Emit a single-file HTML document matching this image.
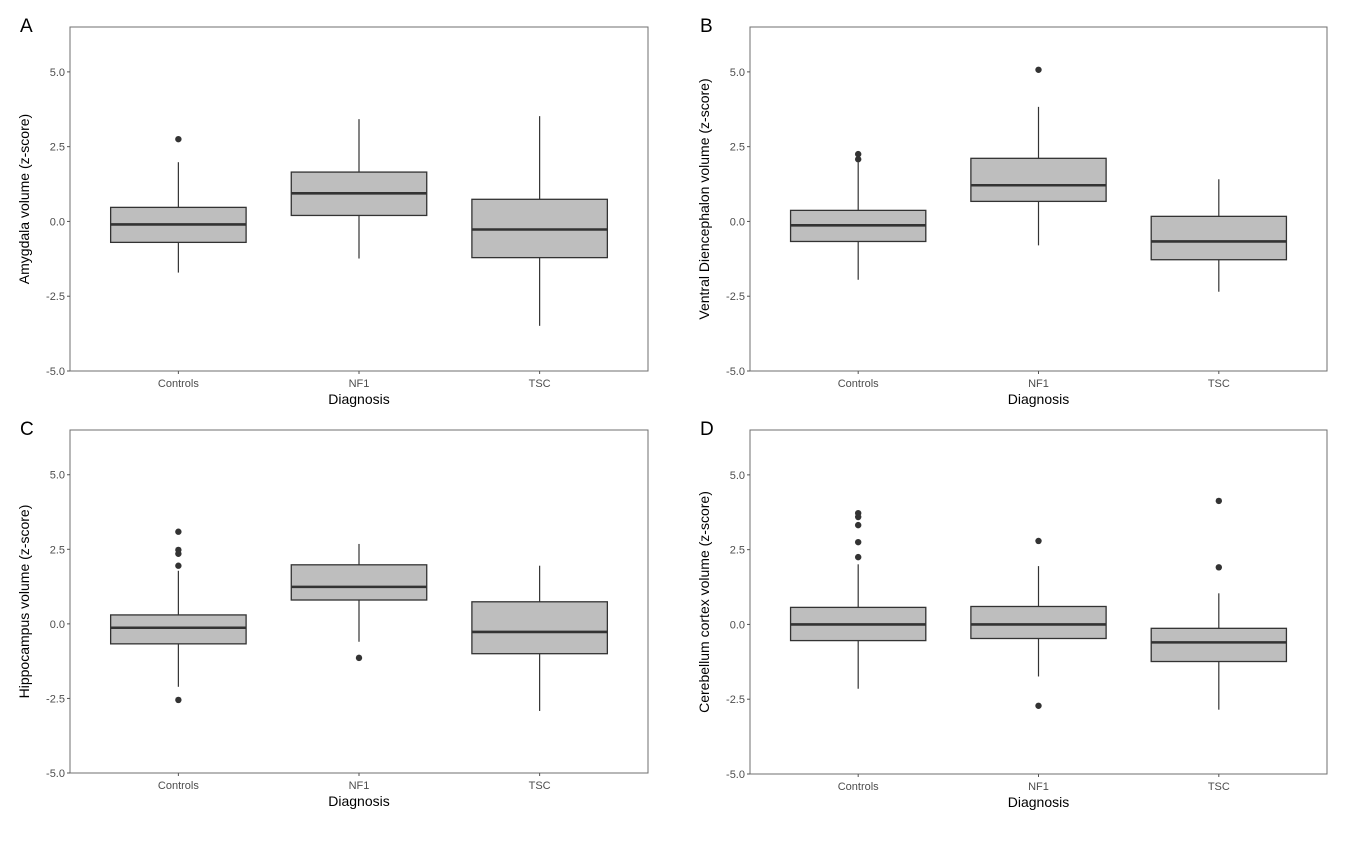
<!DOCTYPE html>
<html><head><meta charset="utf-8"><style>
body{margin:0;background:#fff;}
svg text{font-family:"Liberation Sans",Arial,sans-serif;}
</style></head><body>
<svg id="chart" width="1356" height="839" xmlns="http://www.w3.org/2000/svg"></svg>
<script>
const categories = ["Controls","NF1","TSC"];
const yTicks = [-5.0,-2.5,0.0,2.5,5.0];
const yTickLabels = ["-5.0","-2.5","0.0","2.5","5.0"];
const panelLetters = ["A","B","C","D"];
const yTitles = ["Amygdala volume (z-score)","Ventral Diencephalon volume (z-score)","Hippocampus volume (z-score)","Cerebellum cortex volume (z-score)"];
// each box: [lowWhisker, q1, median, q3, highWhisker]
const statsA = [[-1.71,-0.70,-0.10,0.47,1.98],[-1.24,0.20,0.94,1.65,3.42],[-3.49,-1.21,-0.27,0.74,3.52]];
const outliersA = [[2.75],[],[]];
const statsB = [[-1.95,-0.67,-0.13,0.37,1.98],[-0.80,0.67,1.21,2.11,3.83],[-2.35,-1.28,-0.67,0.17,1.41]];
const outliersB = [[2.25,2.08],[5.07],[]];
const statsC = [[-2.11,-0.67,-0.13,0.30,1.78],[-0.60,0.80,1.24,1.98,2.68],[-2.92,-1.00,-0.27,0.74,1.95]];
const outliersC = [[3.09,2.48,2.35,1.95,-2.55],[-1.14],[]];
const statsD = [[-2.15,-0.54,0.00,0.57,2.01],[-1.74,-0.47,0.00,0.60,1.95],[-2.85,-1.24,-0.60,-0.13,1.04]];
const outliersD = [[3.72,3.59,3.32,2.75,2.25],[2.79,-2.72],[4.13,1.91]];

const allStats=[statsA,statsB,statsC,statsD];
const allOut=[outliersA,outliersB,outliersC,outliersD];
const layout=[{l:70,r:648,t:27,b:371},{l:750,r:1327,t:27,b:371},{l:70,r:648,t:430,b:773},{l:750,r:1327,t:430,b:774}];
const NS="http://www.w3.org/2000/svg";
const svg=document.getElementById('chart');
function mk(tag,attrs,parent){const e=document.createElementNS(NS,tag);for(const k in attrs)e.setAttribute(k,attrs[k]);(parent||svg).appendChild(e);return e;}

layout.forEach((L,p)=>{
  const g=mk('g',{});
  
  
  const yScale=v=>{const y5=L.t+(L.b-L.t)*(1.5/11.5);return L.b-(v+5)*(L.b-y5)/10;};
  const step=(L.r-L.l)/3.2;
  const xScale=i=>L.l+(0.6+i)*step;
  const bw=step*0.75;
  const lt=mk('text',{x:L.l-50,y:L.t+5,'font-size':19,fill:'#000'},g);lt.textContent=panelLetters[p];
  
  
  const fr=mk('rect',{x:L.l,y:L.t,width:L.r-L.l,height:L.b-L.t,fill:'none',stroke:'#6f6f6f','stroke-width':1},g);
  
  
  yTicks.forEach((v,i)=>{
    const y=yScale(v);
    mk('line',{x1:L.l-3,x2:L.l,y1:y,y2:y,stroke:'#555'},g);
    const t=mk('text',{x:L.l-5,y:y+4,'font-size':11,fill:'#4d4d4d','text-anchor':'end'},g);t.textContent=yTickLabels[i];
    
    
  });
  categories.forEach((c,i)=>{
    const x=xScale(i);
    mk('line',{x1:x,x2:x,y1:L.b,y2:L.b+3,stroke:'#555'},g);
    const t=mk('text',{x:x,y:L.b+16,'font-size':11,fill:'#4d4d4d','text-anchor':'middle'},g);t.textContent=c;
    
    
    const s=allStats[p][i];
    const bg=mk('g',{},g);
    
    
    mk('line',{x1:x,x2:x,y1:yScale(s[0]),y2:yScale(s[1]),stroke:'#333','stroke-width':1.2},bg);
    mk('line',{x1:x,x2:x,y1:yScale(s[3]),y2:yScale(s[4]),stroke:'#333','stroke-width':1.2},bg);
    mk('rect',{x:x-bw/2,y:yScale(s[3]),width:bw,height:yScale(s[1])-yScale(s[3]),fill:'#bebebe',stroke:'#333','stroke-width':1.3},bg);
    mk('line',{x1:x-bw/2,x2:x+bw/2,y1:yScale(s[2]),y2:yScale(s[2]),stroke:'#333','stroke-width':2.6},bg);
    allOut[p][i].forEach(v=>{
      const o=mk('circle',{cx:x,cy:yScale(v),r:3.2,fill:'#333'},bg);
      
      
    });
  });
  const xt=mk('text',{x:(L.l+L.r)/2,y:L.b+33,'font-size':14,fill:'#000','text-anchor':'middle'},g);xt.textContent='Diagnosis';
  
  
  const cy=(L.t+L.b)/2;
  const yt=mk('text',{x:L.l-41,y:cy,'font-size':14,fill:'#000','text-anchor':'middle',transform:`rotate(-90 ${L.l-41} ${cy})`},g);yt.textContent=yTitles[p];
  
  
});
</script>
</body></html>
